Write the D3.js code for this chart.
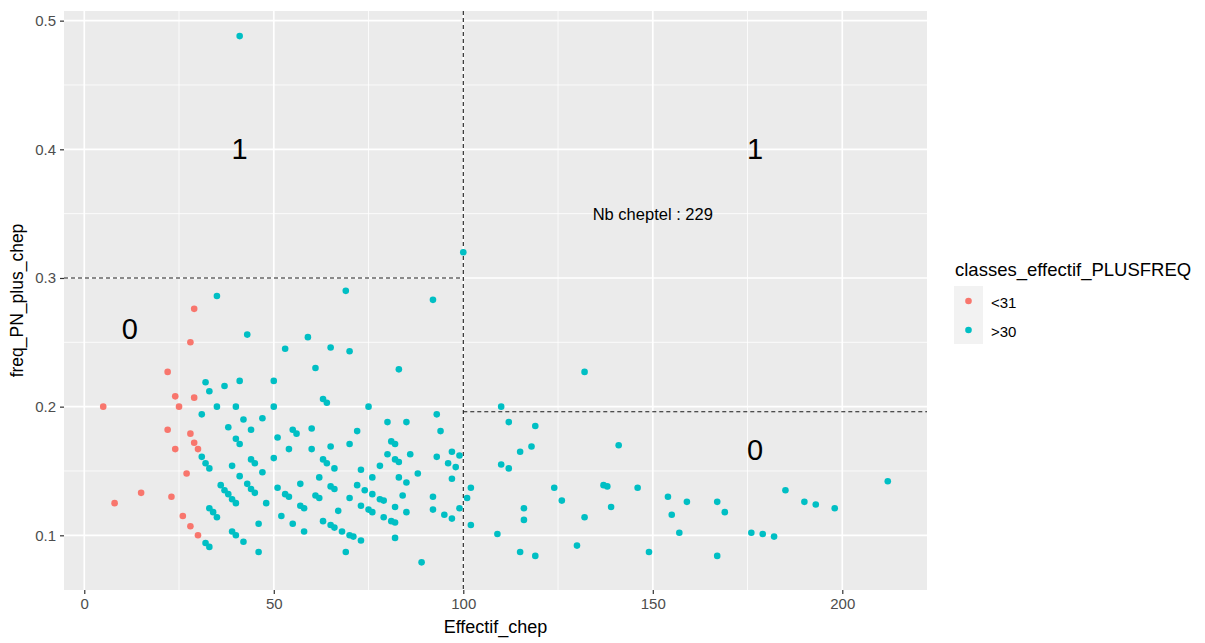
<!DOCTYPE html>
<html>
<head>
<meta charset="utf-8">
<script src="https://cdn.jsdelivr.net/npm/d3@7"></script>
<style>
  body { margin: 0; background: #ffffff; }
  text { font-family: "Liberation Sans", Arial, sans-serif; }
</style>
</head>
<body>
<div id="scatter"></div>
<script>
// effectif_chep, freq_PN_plus_chep for the "<31" class
var pointsLow = [
    [5, 0.200], [8, 0.125], [15, 0.133], [22, 0.227], [22, 0.182], [23, 0.130],
    [24, 0.208], [24, 0.167], [25, 0.200], [26, 0.115], [27, 0.148], [28, 0.250],
    [28, 0.179], [28, 0.107], [29, 0.276], [29, 0.207], [29, 0.172], [30, 0.167],
    [30, 0.100]
];

// same for the ">30" class
var pointsHigh = [
    [31, 0.194], [31, 0.161], [32, 0.219], [32, 0.156], [32, 0.094], [33, 0.212],
    [33, 0.152], [33, 0.121], [33, 0.091], [34, 0.118], [35, 0.286], [35, 0.200],
    [35, 0.114], [36, 0.139], [37, 0.216], [37, 0.135], [38, 0.184], [38, 0.132],
    [39, 0.154], [39, 0.128], [39, 0.103], [40, 0.200], [40, 0.175], [40, 0.125],
    [40, 0.100], [41, 0.488], [41, 0.220], [41, 0.171], [41, 0.146], [42, 0.190],
    [42, 0.095], [43, 0.256], [43, 0.140], [44, 0.182], [44, 0.159], [44, 0.136],
    [45, 0.156], [45, 0.133], [46, 0.109], [46, 0.087], [47, 0.191], [47, 0.149],
    [48, 0.125], [50, 0.220], [50, 0.200], [50, 0.160], [51, 0.176], [51, 0.137],
    [52, 0.115], [53, 0.245], [53, 0.132], [54, 0.167], [54, 0.130], [55, 0.182],
    [55, 0.109], [56, 0.179], [57, 0.140], [57, 0.123], [58, 0.121], [58, 0.103],
    [59, 0.254], [60, 0.183], [60, 0.167], [61, 0.230], [61, 0.131], [62, 0.145],
    [62, 0.129], [63, 0.206], [63, 0.159], [63, 0.111], [64, 0.203], [64, 0.156],
    [65, 0.246], [65, 0.169], [65, 0.138], [65, 0.108], [66, 0.152], [66, 0.136],
    [66, 0.106], [67, 0.119], [68, 0.103], [69, 0.290], [69, 0.087], [70, 0.243],
    [70, 0.171], [70, 0.129], [70, 0.100], [71, 0.099], [72, 0.181], [72, 0.139],
    [73, 0.151], [73, 0.123], [73, 0.096], [74, 0.135], [75, 0.200], [75, 0.120],
    [76, 0.145], [76, 0.132], [76, 0.118], [78, 0.154], [78, 0.128], [79, 0.127],
    [79, 0.114], [80, 0.188], [80, 0.163], [81, 0.173], [81, 0.111], [82, 0.171],
    [82, 0.159], [82, 0.122], [82, 0.110], [82, 0.098], [83, 0.229], [83, 0.157],
    [83, 0.145], [84, 0.131], [85, 0.188], [85, 0.141], [85, 0.118], [86, 0.163],
    [88, 0.148], [89, 0.079], [92, 0.283], [92, 0.130], [92, 0.120], [93, 0.194],
    [93, 0.161], [94, 0.181], [95, 0.116], [96, 0.156], [97, 0.165], [97, 0.144],
    [97, 0.113], [98, 0.153], [99, 0.162], [99, 0.121], [100, 0.320], [101, 0.129],
    [102, 0.137], [102, 0.108], [109, 0.101], [110, 0.200], [110, 0.155], [112, 0.188],
    [112, 0.152], [115, 0.165], [115, 0.087], [116, 0.121], [116, 0.112], [118, 0.169],
    [119, 0.185], [119, 0.084], [124, 0.137], [126, 0.127], [130, 0.092], [132, 0.227],
    [132, 0.114], [137, 0.139], [138, 0.138], [139, 0.122], [141, 0.170], [146, 0.137],
    [149, 0.087], [154, 0.130], [155, 0.116], [157, 0.102], [159, 0.126], [167, 0.126],
    [167, 0.084], [169, 0.118], [176, 0.102], [179, 0.101], [182, 0.099], [185, 0.135],
    [190, 0.126], [193, 0.124], [198, 0.121], [212, 0.142]
];

var xTicks = [0, 50, 100, 150, 200];
var xMinor = [25, 75, 125, 175];
var yTicks = [0.1, 0.2, 0.3, 0.4, 0.5];
var yMinor = [0.15, 0.25, 0.35, 0.45];

var classNames = ["<31", ">30"];
var classColors = ["#F8766D", "#00BFC4"];

// quadrant labels and thresholds
var quadLabels = [
    { x: 41, y: 0.4, t: "1" },
    { x: 177, y: 0.4, t: "1" },
    { x: 12, y: 0.26, t: "0" },
    { x: 177, y: 0.166, t: "0" }
];
var cutX = 100;
var cutYLeft = 0.3;
var cutYRight = 0.196;
var nbText = "Nb cheptel : 229";

var w = 1205;
var h = 643;
var pLeft = 64, pRight = 927, pTop = 11, pBottom = 590;

var svg = d3.select("#scatter")
    .append("svg")
    .attr("width", w)
    .attr("height", h);

var xScale = d3.scaleLinear()
    .domain([-5.35, 222.35])
    .range([pLeft, pRight]);

var yScale = d3.scaleLinear()
    .domain([0.0575, 0.5075])
    .range([pBottom, pTop]);

var color = d3.scaleOrdinal().domain(classNames).range(classColors);

// panel
svg.append("rect")
    .attr("x", pLeft)
    .attr("y", pTop)
    .attr("width", pRight - pLeft)
    .attr("height", pBottom - pTop)
    .attr("fill", "#EBEBEB");

var grid = svg.append("g");

grid.selectAll(".vminor")
    .data(xMinor)
    .enter().append("line")
    .attr("x1", d => xScale(d)).attr("x2", d => xScale(d))
    .attr("y1", pTop).attr("y2", pBottom)
    .attr("stroke", "#ffffff").attr("stroke-width", 0.8);

grid.selectAll(".hminor")
    .data(yMinor)
    .enter().append("line")
    .attr("y1", d => yScale(d)).attr("y2", d => yScale(d))
    .attr("x1", pLeft).attr("x2", pRight)
    .attr("stroke", "#ffffff").attr("stroke-width", 0.8);

grid.selectAll(".vmajor")
    .data(xTicks)
    .enter().append("line")
    .attr("x1", d => xScale(d)).attr("x2", d => xScale(d))
    .attr("y1", pTop).attr("y2", pBottom)
    .attr("stroke", "#ffffff").attr("stroke-width", 1.7);

grid.selectAll(".hmajor")
    .data(yTicks)
    .enter().append("line")
    .attr("y1", d => yScale(d)).attr("y2", d => yScale(d))
    .attr("x1", pLeft).attr("x2", pRight)
    .attr("stroke", "#ffffff").attr("stroke-width", 1.7);

// axes
var xAxis = d3.axisBottom(xScale).tickValues(xTicks).tickSize(4).tickPadding(4);
var yAxis = d3.axisLeft(yScale).tickValues(yTicks).tickSize(4).tickPadding(4)
    .tickFormat(d3.format(".1f"));

svg.append("g")
    .attr("transform", "translate(0," + pBottom + ")")
    .call(xAxis)
    .call(g => g.select(".domain").remove())
    .call(g => g.selectAll("line").attr("stroke", "#333333").attr("stroke-width", 1.2))
    .call(g => g.selectAll("text").attr("fill", "#4D4D4D").style("font-size", "15px"));

svg.append("g")
    .attr("transform", "translate(" + pLeft + ",0)")
    .call(yAxis)
    .call(g => g.select(".domain").remove())
    .call(g => g.selectAll("line").attr("stroke", "#333333").attr("stroke-width", 1.2))
    .call(g => g.selectAll("text").attr("fill", "#4D4D4D").style("font-size", "15px"));

// threshold lines
var dash = "4,3";
svg.append("line")
    .attr("x1", xScale(cutX)).attr("x2", xScale(cutX))
    .attr("y1", pTop).attr("y2", pBottom)
    .attr("stroke", "#1a1a1a").attr("stroke-width", 1.1).attr("stroke-dasharray", dash);

svg.append("line")
    .attr("x1", pLeft).attr("x2", xScale(cutX))
    .attr("y1", yScale(cutYLeft)).attr("y2", yScale(cutYLeft))
    .attr("stroke", "#1a1a1a").attr("stroke-width", 1.1).attr("stroke-dasharray", dash);

svg.append("line")
    .attr("x1", xScale(cutX)).attr("x2", pRight)
    .attr("y1", yScale(cutYRight)).attr("y2", yScale(cutYRight))
    .attr("stroke", "#1a1a1a").attr("stroke-width", 1.1).attr("stroke-dasharray", dash);

// points
var dots = svg.append("g");
dots.selectAll(".low")
    .data(pointsLow)
    .enter().append("circle")
    .attr("cx", d => xScale(d[0]))
    .attr("cy", d => yScale(d[1]))
    .attr("r", 3.3)
    .attr("fill", color("<31"));

dots.selectAll(".high")
    .data(pointsHigh)
    .enter().append("circle")
    .attr("cx", d => xScale(d[0]))
    .attr("cy", d => yScale(d[1]))
    .attr("r", 3.3)
    .attr("fill", color(">30"));

// annotations
svg.selectAll(".quad")
    .data(quadLabels)
    .enter().append("text")
    .attr("x", d => xScale(d.x))
    .attr("y", d => yScale(d.y))
    .attr("text-anchor", "middle")
    .attr("dominant-baseline", "central")
    .style("font-size", "29px")
    .attr("fill", "#000000")
    .text(d => d.t);

svg.append("text")
    .attr("x", xScale(150))
    .attr("y", yScale(0.35))
    .attr("text-anchor", "middle")
    .attr("dominant-baseline", "central")
    .style("font-size", "16.5px")
    .attr("fill", "#000000")
    .text(nbText);

// axis titles
svg.append("text")
    .attr("x", (pLeft + pRight) / 2)
    .attr("y", 633)
    .attr("text-anchor", "middle")
    .style("font-size", "18px")
    .attr("fill", "#000000")
    .text("Effectif_chep");

svg.append("text")
    .attr("transform", "translate(23," + ((pTop + pBottom) / 2) + ") rotate(-90)")
    .attr("text-anchor", "middle")
    .style("font-size", "17.5px")
    .attr("fill", "#000000")
    .text("freq_PN_plus_chep");

// legend
var legend = svg.append("g").attr("transform", "translate(954,0)");

legend.append("text")
    .attr("x", 1)
    .attr("y", 276)
    .style("font-size", "18.5px")
    .attr("fill", "#000000")
    .text("classes_effectif_PLUSFREQ");

legend.selectAll(".key")
    .data(classNames)
    .enter().append("rect")
    .attr("x", 0)
    .attr("y", (d, i) => 286 + 29 * i)
    .attr("width", 29)
    .attr("height", 29)
    .attr("fill", "#F2F2F2");

legend.selectAll(".keydot")
    .data(classNames)
    .enter().append("circle")
    .attr("cx", 14.5)
    .attr("cy", (d, i) => 301 + 29 * i)
    .attr("r", 3.3)
    .attr("fill", d => color(d));

legend.selectAll(".keylab")
    .data(classNames)
    .enter().append("text")
    .attr("x", 37)
    .attr("y", (d, i) => 302 + 29 * i)
    .attr("dominant-baseline", "central")
    .style("font-size", "15px")
    .attr("fill", "#000000")
    .text(d => d);
</script>
</body>
</html>
